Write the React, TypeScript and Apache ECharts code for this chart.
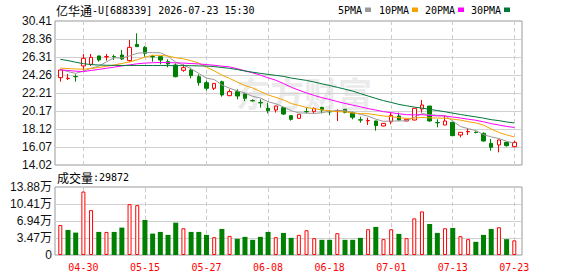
import React, { useEffect, useRef } from 'react';
import * as echarts from 'echarts';

const dates = [
  '04-27', '04-28', '04-29', '04-30', '05-06', '05-07', '05-08', '05-11', '05-12', '05-13',
  '05-14', '05-15', '05-18', '05-19', '05-20', '05-21', '05-22', '05-25', '05-26', '05-27',
  '05-28', '05-29', '06-01', '06-02', '06-03', '06-04', '06-05', '06-08', '06-09', '06-10',
  '06-11', '06-12', '06-15', '06-16', '06-17', '06-18', '06-22', '06-23', '06-24', '06-25',
  '06-26', '06-29', '06-30', '07-01', '07-02', '07-03', '07-06', '07-07', '07-08', '07-09',
  '07-10', '07-13', '07-14', '07-15', '07-16', '07-17', '07-20', '07-21', '07-22', '07-23',
];

const opens = [
  23.96, 23.86, 24.09, 25.29, 25.48, 26.43, 26.33, 26.37, 26.54, 25.90,
  27.75, 27.41, 26.37, 26.35, 25.78, 25.40, 24.80, 24.83, 24.07, 23.39,
  22.75, 23.50, 21.91, 22.37, 22.10, 21.36, 21.13, 20.47, 20.28, 20.55,
  19.63, 19.33, 20.10, 20.09, 20.58, 20.10, 20.20, 20.36, 19.98, 19.16,
  19.05, 19.03, 18.46, 18.95, 19.60, 19.03, 19.14, 20.39, 20.73, 18.86,
  18.57, 18.88, 17.43, 17.80, 17.76, 17.62, 16.49, 16.30, 16.60, 16.11,
];
const closes = [
  24.83, 23.89, 24.06, 26.16, 26.27, 25.97, 26.36, 26.33, 26.09, 27.41,
  27.49, 26.73, 26.33, 25.97, 25.52, 24.07, 25.10, 24.19, 23.39, 22.75,
  23.31, 21.99, 22.37, 21.87, 21.61, 21.32, 21.09, 20.20, 20.73, 19.82,
  19.22, 19.79, 20.08, 20.47, 20.28, 20.07, 20.22, 20.01, 19.45, 19.14,
  19.09, 18.50, 18.76, 19.67, 19.14, 19.22, 20.47, 20.85, 19.03, 18.82,
  19.03, 17.36, 17.74, 17.84, 17.72, 16.75, 16.03, 16.87, 16.22, 16.60,
];
const lows = [
  23.51, 23.70, 23.51, 24.76, 25.29, 25.78, 25.90, 25.97, 25.97, 25.78,
  27.45, 26.35, 25.78, 25.48, 25.14, 24.00, 24.64, 23.88, 23.05, 22.48,
  22.55, 21.80, 21.85, 21.49, 21.30, 21.23, 20.55, 19.90, 19.98, 19.71,
  19.07, 19.28, 19.90, 19.90, 19.90, 19.71, 19.03, 19.90, 19.22, 18.84,
  18.57, 17.93, 18.42, 18.65, 19.07, 19.00, 19.10, 19.98, 18.95, 18.31,
  18.55, 17.32, 17.17, 17.43, 17.63, 16.68, 15.65, 15.46, 16.11, 16.03,
];
const highs = [
  24.95, 24.38, 24.34, 26.65, 26.65, 26.47, 26.65, 26.58, 27.11, 28.25,
  29.01, 27.56, 26.54, 26.40, 26.05, 25.59, 25.48, 25.10, 24.34, 23.62,
  23.35, 23.62, 22.63, 22.63, 22.18, 21.49, 21.49, 21.11, 20.75, 20.60,
  19.71, 19.80, 20.55, 20.58, 20.66, 20.28, 20.36, 20.40, 20.09, 19.52,
  19.41, 19.05, 18.80, 19.98, 19.98, 19.25, 20.50, 21.42, 20.75, 19.22,
  19.60, 18.90, 17.76, 18.19, 17.82, 17.74, 16.98, 16.90, 16.68, 16.79,
];

const ma5 = [
  24.90, 24.65, 24.45, 24.70, 25.04, 25.27, 25.76, 26.22, 26.20, 26.43,
  26.74, 26.81, 26.81, 26.79, 26.41, 25.72, 25.40, 24.97, 24.45, 23.90,
  23.75, 23.13, 22.76, 22.46, 22.23, 21.83, 21.65, 21.22, 20.99, 20.63,
  20.21, 19.95, 19.93, 19.88, 19.97, 20.14, 20.22, 20.21, 20.01, 19.78,
  19.58, 19.24, 18.99, 19.03, 19.03, 19.06, 19.45, 19.87, 19.74, 19.68,
  19.64, 19.02, 18.40, 18.16, 17.94, 17.48, 17.22, 17.04, 16.72, 16.49,
];
const ma10 = [
  25.05, 25.00, 24.95, 24.92, 25.00, 25.12, 25.25, 25.40, 25.58, 25.74,
  26.00, 26.29, 26.51, 26.50, 26.42, 26.23, 26.10, 25.89, 25.62, 25.15,
  24.74, 24.26, 23.87, 23.46, 23.07, 22.79, 22.39, 21.99, 21.72, 21.43,
  21.02, 20.80, 20.57, 20.43, 20.30, 20.18, 20.09, 20.07, 19.94, 19.87,
  19.86, 19.73, 19.60, 19.52, 19.41, 19.32, 19.35, 19.43, 19.39, 19.36,
  19.35, 19.24, 19.13, 18.95, 18.81, 18.56, 18.12, 17.72, 17.44, 17.22,
];
const ma20 = [
  24.85, 24.78, 24.70, 24.65, 24.78, 24.90, 25.03, 25.16, 25.29, 25.42,
  25.54, 25.62, 25.66, 25.68, 25.67, 25.65, 25.62, 25.57, 25.52, 25.45,
  25.37, 25.27, 25.19, 24.98, 24.74, 24.51, 24.25, 23.94, 23.67, 23.29,
  22.88, 22.53, 22.22, 21.94, 21.68, 21.48, 21.24, 21.03, 20.83, 20.65,
  20.44, 20.27, 20.09, 19.98, 19.85, 19.75, 19.72, 19.75, 19.66, 19.61,
  19.60, 19.48, 19.37, 19.23, 19.11, 18.94, 18.73, 18.57, 18.41, 18.29,
];
const ma30 = [
  26.05, 25.90, 25.72, 25.55, 25.45, 25.40, 25.37, 25.36, 25.35, 25.35,
  25.35, 25.35, 25.34, 25.34, 25.33, 25.33, 25.33, 25.32, 25.30, 25.28,
  25.22, 25.12, 25.02, 24.88, 24.72, 24.58, 24.45, 24.33, 24.22, 24.11,
  23.92, 23.78, 23.65, 23.46, 23.26, 23.07, 22.86, 22.65, 22.43, 22.15,
  21.87, 21.60, 21.35, 21.14, 20.92, 20.76, 20.61, 20.50, 20.35, 20.22,
  20.08, 19.92, 19.77, 19.63, 19.50, 19.35, 19.18, 19.07, 18.92, 18.81,
];

const volumes = [
  61300, 51200, 45700, 129500, 91600, 47100, 47100, 47100, 55900, 103800,
  101800, 71400, 43700, 47100, 41100, 66000, 54600, 47100, 47100, 41100,
  36400, 53200, 39000, 33000, 37000, 31000, 37000, 47100, 36400, 45100,
  35000, 41100, 50600, 34400, 31000, 31000, 44500, 31000, 31000, 35000,
  52600, 57300, 32400, 52600, 43100, 34400, 74800, 89000, 63300, 45100,
  54600, 55200, 38400, 32400, 26900, 41100, 53200, 56600, 32400, 29872,
];
// 1 = red (up) volume bar, 0 = green
const volumeUp = [
  1, 0, 0, 1, 1, 0, 1, 0, 0, 1,
  1, 0, 0, 0, 0, 0, 1, 0, 0, 0,
  1, 0, 1, 0, 0, 0, 0, 0, 1, 0,
  0, 1, 1, 1, 0, 0, 1, 0, 0, 0,
  1, 0, 1, 1, 0, 1, 1, 1, 0, 0,
  1, 0, 1, 1, 0, 0, 0, 1, 0, 1,
];

const priceTickLabels = ['14.02', '16.07', '18.12', '20.17', '22.21', '24.26', '26.31', '28.36', '30.41'];
const volumeTickLabels = ['0', '3.47万', '6.94万', '10.41万', '13.88万'];
const dateTickLabels = ['04-30', '05-15', '05-27', '06-08', '06-18', '07-01', '07-13', '07-23'];

const titleName = '亿华通';
const titleRest = '-U[688339] 2026-07-23 15:30';
const volumeCaption = '成交量';
const lastVolume = '29872';
const maNames = ['5PMA', '10PMA', '20PMA', '30PMA'];
const maColors = ['#999999', '#f5a300', '#ff00ff', '#00763a'];

const PRICE_MIN = 14.02;
const PRICE_MAX = 30.41;
const VOL_MAX = 138800;

const RED = '#ff0000';
const GREEN = '#008000';
const MONO = '"DejaVu Sans Mono", monospace';
const CJK = '"Noto Sans CJK SC", sans-serif';
const SANS = '"Liberation Sans", "Noto Sans CJK SC", sans-serif';

function buildOption() {
  const maData = [ma5, ma10, ma20, ma30];
  const markLine = {
    silent: true,
    z: 1,
    symbol: ['none', 'none'],
    label: { show: false },
    lineStyle: { color: '#cccccc', type: [4, 3], width: 1 },
    emphasis: { disabled: true },
    data: dateTickLabels.map((d) => ({ xAxis: d })),
  };
  const legendX = [338, 379, 425, 471];
  const legendSq = [365, 412, 458, 504];
  const graphic: any[] = [
    {
      type: 'text',
      x: 236,
      y: 92,
      z: -1,
      silent: true,
      style: { text: '东方财富', font: 'bold 34px "Noto Sans CJK SC"', fill: '#ebebeb', verticalAlign: 'middle' },
    },
    {
      type: 'text',
      x: 56,
      y: 10,
      style: {
        text: `{c|${titleName}}{a|${titleRest}}`,
        verticalAlign: 'middle',
        rich: {
          c: { fontSize: 12, fontFamily: CJK, fill: '#000' },
          a: { fontSize: 10, fontFamily: MONO, fill: '#000' },
        },
      },
    },
    {
      type: 'text',
      x: 57,
      y: 177.5,
      style: {
        text: `{c|${volumeCaption}}{a|:${lastVolume}}`,
        verticalAlign: 'middle',
        rich: {
          c: { fontSize: 12, fontFamily: CJK, fill: '#000' },
          a: { fontSize: 10, fontFamily: MONO, fill: '#000' },
        },
      },
    },
  ];
  maNames.forEach((n, k) => {
    graphic.push({
      type: 'text',
      x: legendX[k],
      y: 10,
      style: { text: n, font: `10px ${MONO}`, fill: '#000', verticalAlign: 'middle' },
    });
    graphic.push({
      type: 'rect',
      shape: { x: legendSq[k], y: 7.5, width: 6, height: 4.5 },
      style: { fill: maColors[k] },
    });
  });

  const yLabelStyle = { color: '#111', fontSize: 12, fontFamily: SANS, margin: 3 };
  const splitLineStyle = { show: true, lineStyle: { color: '#d0d0d0', width: 1 }, showMinLine: false, showMaxLine: false };

  return {
    animation: false,
    backgroundColor: '#ffffff',
    graphic,
    grid: [
      { left: 55, top: 21, width: 467, height: 144, show: true, borderColor: '#999', borderWidth: 1, backgroundColor: 'transparent' },
      { left: 56.45, top: 21, width: 461.7, height: 144 },
      { left: 55, top: 187, width: 467, height: 68, show: true, borderColor: '#999', borderWidth: 1, backgroundColor: 'transparent' },
      { left: 56.45, top: 187, width: 461.7, height: 68 },
    ],
    xAxis: [
      { gridIndex: 0, type: 'value', min: 0, max: 1, show: false },
      { gridIndex: 1, type: 'category', data: dates, boundaryGap: true, show: false },
      { gridIndex: 2, type: 'value', min: 0, max: 1, show: false },
      {
        gridIndex: 3,
        type: 'category',
        data: dates,
        boundaryGap: true,
        axisLine: { show: false },
        axisTick: { show: false },
        splitLine: { show: false },
        axisLabel: {
          interval: (_i: number, v: string) => dateTickLabels.includes(v),
          color: RED,
          fontSize: 10,
          fontFamily: MONO,
          margin: 7,
        },
      },
      { gridIndex: 3, type: 'category', data: dates, boundaryGap: true, show: false },
    ],
    yAxis: [
      {
        gridIndex: 0,
        type: 'value',
        min: 0,
        max: priceTickLabels.length - 1,
        interval: 1,
        axisLine: { show: false },
        axisTick: { show: false },
        axisLabel: { ...yLabelStyle, formatter: (v: number) => priceTickLabels[Math.round(v)] ?? '' },
        splitLine: splitLineStyle,
      },
      { gridIndex: 1, type: 'value', min: PRICE_MIN, max: PRICE_MAX, show: false },
      {
        gridIndex: 2,
        type: 'value',
        min: 0,
        max: volumeTickLabels.length - 1,
        interval: 1,
        axisLine: { show: false },
        axisTick: { show: false },
        axisLabel: { ...yLabelStyle, formatter: (v: number) => volumeTickLabels[Math.round(v)] ?? '' },
        splitLine: splitLineStyle,
      },
      { gridIndex: 3, type: 'value', min: 0, max: VOL_MAX, show: false },
    ],
    series: [
      {
        type: 'line',
        xAxisIndex: 1,
        yAxisIndex: 1,
        data: [],
        silent: true,
        z: 1,
        markLine,
      },
      {
        type: 'line',
        xAxisIndex: 3,
        yAxisIndex: 3,
        data: [],
        silent: true,
        z: 1,
        markLine,
      },
      {
        type: 'candlestick',
        xAxisIndex: 1,
        yAxisIndex: 1,
        barWidth: 4,
        z: 3,
        data: opens.map((o, i) => [o, closes[i], lows[i], highs[i]]),
        itemStyle: {
          color: '#ffffff',
          color0: GREEN,
          borderColor: RED,
          borderColor0: GREEN,
          borderWidth: 1,
        },
      },
      ...maData.map((d, k) => ({
        type: 'line',
        name: maNames[k],
        xAxisIndex: 1,
        yAxisIndex: 1,
        data: d,
        symbol: 'none',
        z: 4,
        silent: true,
        lineStyle: { color: maColors[k], width: 1 },
      })),
      {
        type: 'bar',
        xAxisIndex: 3,
        yAxisIndex: 3,
        barWidth: 4,
        z: 3,
        data: volumes.map((v, i) => (volumeUp[i] ? v : '-')),
        itemStyle: { color: '#ffffff', borderColor: RED, borderWidth: 1 },
      },
      {
        type: 'bar',
        xAxisIndex: 4,
        yAxisIndex: 3,
        barWidth: 5,
        z: 3,
        data: volumes.map((v, i) => (volumeUp[i] ? '-' : v)),
        itemStyle: { color: GREEN },
      },
    ],
  };
}

export default function App() {
  const ref = useRef<HTMLDivElement>(null);
  useEffect(() => {
    if (!ref.current) return;
    const chart = echarts.init(ref.current, null, { renderer: 'svg' });
    chart.setOption(buildOption() as any);
    return () => chart.dispose();
  }, []);
  return (
    <div
      ref={ref}
      style={{ position: 'fixed', left: 0, top: 0, width: 578, height: 276, background: '#fff' }}
    />
  );
}
